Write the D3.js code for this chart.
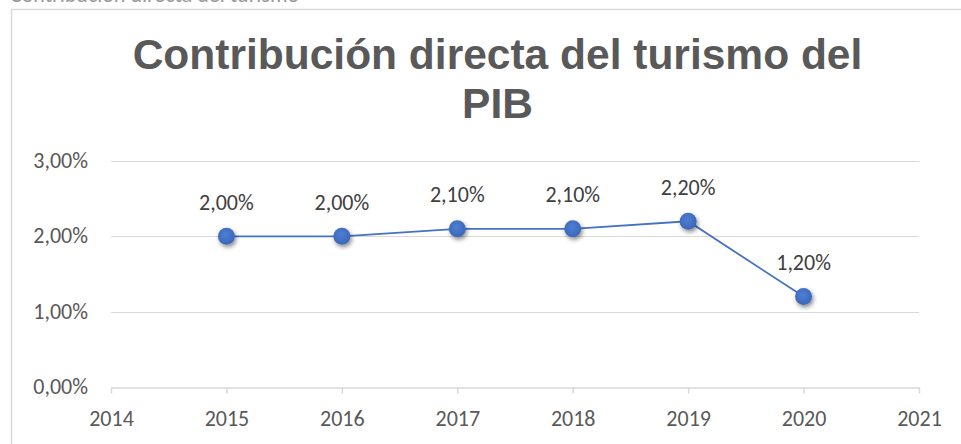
<!DOCTYPE html>
<html><head><meta charset="utf-8">
<script src="https://cdn.jsdelivr.net/npm/d3@7"></script>
<style>
html,body{margin:0;padding:0;background:#fff;overflow:hidden}
svg{display:block}
</style></head>
<body>
<svg id="chart" width="961" height="444"></svg>
<script>
const years = [2015, 2016, 2017, 2018, 2019, 2020];
const values = [0.020, 0.020, 0.021, 0.021, 0.022, 0.012];
const labels = ["2,00%", "2,00%", "2,10%", "2,10%", "2,20%", "1,20%"];
const xTicks = [2014, 2015, 2016, 2017, 2018, 2019, 2020, 2021];
const yTicks = [0, 0.01, 0.02, 0.03];
const yTickLabels = ["0,00%", "1,00%", "2,00%", "3,00%"];
const titleLines = ["Contribución directa del turismo del", "PIB"];
const cutText = "Contribución directa del turismo";

const svg = d3.select("#chart");
const pLeft = 111, pRight = 919, pTop = 161, pBottom = 387;
const x = d3.scaleLinear().domain([2014, 2021]).range([pLeft, pRight]);
const y = d3.scaleLinear().domain([0, 0.03]).range([pBottom, pTop]);
const font = "Calibri, Carlito, 'Open Sans', 'Liberation Sans', sans-serif";
const gray = "#595959";
const blue = "#4472C4";
const fs = 22;

// defs
const defs = svg.append("defs");
const f = defs.append("filter").attr("id","shadow").attr("x","-50%").attr("y","-50%").attr("width","200%").attr("height","200%");
f.append("feDropShadow").attr("dx",1.5).attr("dy",2.5).attr("stdDeviation",2).attr("flood-color","#000").attr("flood-opacity",0.45);
const grad = defs.append("radialGradient").attr("id","mk").attr("cx","45%").attr("cy","40%").attr("r","60%");
grad.append("stop").attr("offset","0%").attr("stop-color","#4f7fd3");
grad.append("stop").attr("offset","100%").attr("stop-color","#3a66b8");

// partially visible text at very top (cut off in the reference)
svg.append("text").attr("x", 10).attr("y", 1.5).attr("font-family", font)
  .attr("font-size", fs).attr("fill", "#9a9a9a").text(cutText);

// chart border
svg.append("rect").attr("x", 11.5).attr("y", 9.5).attr("width", 1000).attr("height", 500)
  .attr("fill", "#fff").attr("stroke", "#d9d9d9").attr("stroke-width", 1.5);

// title
const tcx = 497.5;
const tfont = "Arial, 'Liberation Sans', sans-serif";
svg.append("text").attr("x", tcx).attr("y", 69).attr("text-anchor","middle")
  .attr("font-family", tfont).attr("font-weight","bold")
  .attr("font-size", 42.5).attr("fill", gray).text(titleLines[0]);
svg.append("text").attr("x", tcx).attr("y", 118).attr("text-anchor","middle")
  .attr("font-family", tfont).attr("font-weight","bold")
  .attr("font-size", 42.5).attr("fill", gray).text(titleLines[1]);

// gridlines
svg.append("g").selectAll("line").data(yTicks.slice(1)).join("line")
  .attr("x1", pLeft).attr("x2", pRight)
  .attr("y1", d => Math.round(y(d)) + 0.5).attr("y2", d => Math.round(y(d)) + 0.5)
  .attr("stroke", "#d9d9d9").attr("stroke-width", 1.2);

// y labels
svg.append("g").selectAll("text").data(yTicks).join("text")
  .attr("x", 88).attr("y", d => y(d) + 7).attr("text-anchor","end")
  .attr("font-family", font).attr("font-size", fs).attr("fill", gray)
  .text((d,i) => yTickLabels[i]);

// x axis
const xAxis = d3.axisBottom(x).tickValues(xTicks).tickFormat(d3.format("d")).tickSize(6).tickSizeOuter(0);
const gx = svg.append("g").attr("transform", `translate(0,${pBottom + 0.5})`).call(xAxis);
gx.select(".domain").attr("stroke", "#d9d9d9").attr("stroke-width", 1.5);
gx.selectAll(".tick line").attr("stroke", "#d9d9d9").attr("stroke-width", 1.5);
gx.selectAll(".tick text").attr("font-family", font).attr("font-size", fs).attr("fill", gray)
  .attr("y", 38).attr("dy", 0);

// line
const data = years.map((yr, i) => ({yr, v: values[i], lab: labels[i]}));
svg.append("path").datum(data)
  .attr("d", d3.line().x(d => x(d.yr)).y(d => y(d.v)))
  .attr("fill","none").attr("stroke", blue).attr("stroke-width", 1.8);

// markers
svg.append("g").selectAll("circle").data(data).join("circle")
  .attr("cx", d => x(d.yr)).attr("cy", d => y(d.v)).attr("r", 8.5)
  .attr("fill", "url(#mk)").attr("filter","url(#shadow)");

// data labels
svg.append("g").selectAll("text").data(data).join("text")
  .attr("x", d => x(d.yr)).attr("y", d => y(d.v) - 26.5).attr("text-anchor","middle")
  .attr("font-family", font).attr("font-size", fs).attr("fill", "#404040")
  .text(d => d.lab);
</script>
</body></html>
